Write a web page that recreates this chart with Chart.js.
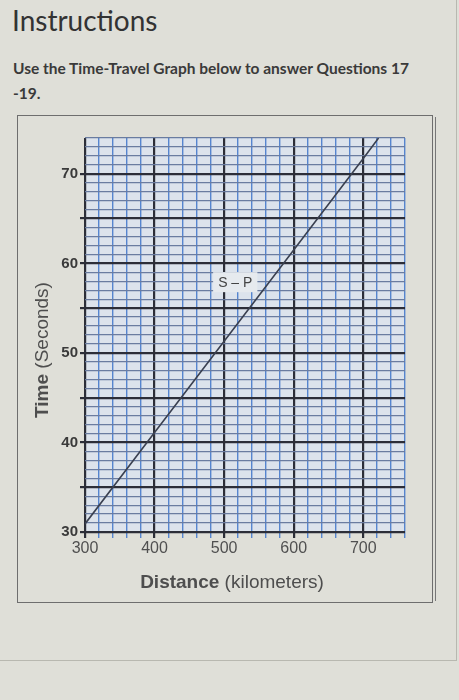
<!DOCTYPE html>
<html>
<head>
<meta charset="utf-8">
<script src="https://cdn.jsdelivr.net/npm/chart.js@4.4.1/dist/chart.umd.min.js"></script>
<style>
  html, body { margin: 0; padding: 0; }
  body {
    width: 459px; height: 700px; position: relative; overflow: hidden;
    background: #dfdfd8; font-family: Lato, "Open Sans", sans-serif;
  }
  h1 {
    position: absolute; left: 12px; top: 3px; margin: 0;
    font-size: 28px; font-weight: 400; color: #333;
  }
  .intro {
    position: absolute; left: 13px; top: 56px; margin: 0;
    font-size: 15.5px; font-weight: 700; color: #3a3a3a; line-height: 25px;
  }
  .panel {
    position: absolute; left: 17px; top: 115px; width: 414px; height: 486px;
    border: 1.5px solid #6e6e6e; box-shadow: 4px 0 0 -2px #dfdfd8, 5px 0 0 -2px #777;
  }
  .frame-v { position: absolute; left: 456px; top: 0; width: 1px; height: 661px; background: #b8b8b0; }
  .frame-h { position: absolute; left: 0; top: 660px; width: 457px; height: 1px; background: #b8b8b0; }
</style>
</head>
<body>
<h1>Instructions</h1>
<p class="intro">Use the Time-Travel Graph below to answer Questions 17<br>-19.</p>
<div class="frame-v"></div>
<div class="frame-h"></div>
<div class="panel"><canvas id="graph"></canvas></div>

<script>
// values
const distances = [300, 400, 500, 600, 700, 722];
const spTimes = [30.9, 41.1, 51.3, 61.5, 71.7, 74];
const xLabels = [300, 400, 500, 600, 700];
const yLabels = [30, 40, 50, 60, 70];

const darkLine = '#2c2e38';
const blueLine = '#5585cf';
const greyLine = '#6a7ca0';
const titleFont = '19px "Liberation Sans", Arial, sans-serif';
const titleBold = 'bold 19px "Liberation Sans", Arial, sans-serif';

// draws "bold part" + "regular part" centred on 0,0
function twoPartText(ctx, boldText, plainText) {
  ctx.font = titleBold;
  const w1 = ctx.measureText(boldText).width;
  ctx.font = titleFont;
  const w2 = ctx.measureText(plainText).width;
  const sx = -(w1 + w2) / 2;
  ctx.font = titleBold;
  ctx.fillText(boldText, sx, 0);
  ctx.font = titleFont;
  ctx.fillText(plainText, sx + w1, 0);
}

// plot background + axis titles + S-P tag
const paperPlugin = {
  id: 'paper',
  beforeDraw(chart) {
    const a = chart.chartArea, ctx = chart.ctx;
    ctx.save();
    ctx.fillStyle = '#dce3ec';
    ctx.fillRect(a.left, a.top, a.right - a.left, a.bottom - a.top);
    ctx.restore();
  },
  afterDraw(chart) {
    const ctx = chart.ctx;
    const xs = chart.scales.x, ys = chart.scales.y;
    ctx.save();
    ctx.fillStyle = '#4e4e4e';
    ctx.textBaseline = 'alphabetic';
    ctx.translate(214, 472);
    twoPartText(ctx, 'Distance ', '(kilometers)');
    ctx.restore();

    ctx.save();
    ctx.fillStyle = '#4e4e4e';
    ctx.translate(30, 234);
    ctx.rotate(-Math.PI / 2);
    twoPartText(ctx, 'Time ', '(Seconds)');
    ctx.restore();

    // S - P tag
    ctx.save();
    const px = xs.getPixelForValue(516), py = ys.getPixelForValue(57.9);
    ctx.font = '14px "Liberation Sans", Arial, sans-serif';
    const tw = ctx.measureText('S \u2013 P').width;
    ctx.fillStyle = '#e6eaee';
    ctx.fillRect(px - tw / 2 - 5, py - 10, tw + 10, 20);
    ctx.fillStyle = '#444';
    ctx.textAlign = 'center';
    ctx.textBaseline = 'middle';
    ctx.fillText('S \u2013 P', px, py + 1);
    ctx.restore();
  }
};

const data = {
  datasets: [{
    label: 'S-P',
    data: distances.map((d, i) => ({ x: d, y: spTimes[i] })),
    borderColor: '#3a4050',
    borderWidth: 1.6,
    pointRadius: 0,
    tension: 0
  }]
};

const isMajorX = (v) => v % 100 === 0 && v <= 700;

const config = {
  type: 'line',
  data: data,
  options: {
    responsive: true,
    maintainAspectRatio: false,
    animation: false,
    layout: { padding: { top: 22, right: 27, left: 0, bottom: 0 } },
    scales: {
      x: {
        type: 'linear',
        min: 300,
        max: 760,
        afterFit: (s) => { s.height = 70; },
        border: { display: false },
        grid: {
          color: (c) => isMajorX(c.tick.value) ? darkLine : blueLine,
          lineWidth: (c) => isMajorX(c.tick.value) ? 2.2 : 1.4,
          tickLength: 6
        },
        ticks: {
          stepSize: 20,
          autoSkip: false,
          maxRotation: 0,
          maxTicksLimit: 100,
          padding: 1,
          color: '#505050',
          font: { family: '"Liberation Sans", Arial, sans-serif', size: 16 },
          callback: (v) => xLabels.includes(v) ? String(v) : ''
        }
      },
      y: {
        min: 30,
        max: 74,
        afterFit: (s) => { s.width = 67; },
        border: { display: false },
        grid: {
          color: (c) => c.tick.value % 5 === 0 ? darkLine : greyLine,
          tickColor: (c) => c.tick.value % 5 === 0 ? darkLine : 'rgba(0,0,0,0)',
          lineWidth: (c) => c.tick.value % 5 === 0 ? 2.2 : 1.2,
          tickLength: 5
        },
        ticks: {
          stepSize: 1,
          autoSkip: false,
          maxTicksLimit: 100,
          padding: 2,
          color: '#3a3a3a',
          font: { family: '"Liberation Sans", Arial, sans-serif', size: 15, weight: 'bold' },
          callback: (v) => yLabels.includes(v) ? String(v) : ''
        }
      }
    },
    plugins: {
      legend: { display: false },
      tooltip: { enabled: false }
    }
  },
  plugins: [paperPlugin]
};

const graph = new Chart(document.getElementById('graph'), config);
</script>
</body>
</html>
